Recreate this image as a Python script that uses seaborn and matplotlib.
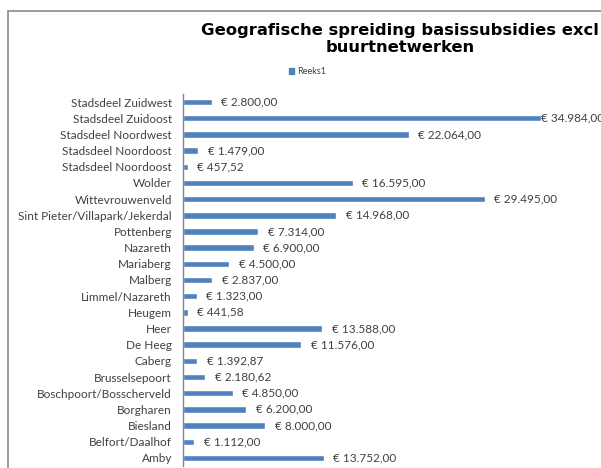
import matplotlib
matplotlib.use("Agg")
import matplotlib.pyplot as plt
import pandas as pd
import seaborn as sns
from matplotlib.lines import Line2D
from matplotlib.patches import Patch

# Data, top to bottom as in the chart
DISTRICTS = [
    "Stadsdeel Zuidwest",
    "Stadsdeel Zuidoost",
    "Stadsdeel Noordwest",
    "Stadsdeel Noordoost",
    "Stadsdeel Noordoost",
    "Wolder",
    "Wittevrouwenveld",
    "Sint Pieter/Villapark/Jekerdal",
    "Pottenberg",
    "Nazareth",
    "Mariaberg",
    "Malberg",
    "Limmel/Nazareth",
    "Heugem",
    "Heer",
    "De Heeg",
    "Caberg",
    "Brusselsepoort",
    "Boschpoort/Bosscherveld",
    "Borgharen",
    "Biesland",
    "Belfort/Daalhof",
    "Amby",
]
SUBSIDIES = [
    2800.00, 34984.00, 22064.00, 1479.00, 457.52, 16595.00, 29495.00,
    14968.00, 7314.00, 6900.00, 4500.00, 2837.00, 1323.00, 441.58,
    13588.00, 11576.00, 1392.87, 2180.62, 4850.00, 6200.00, 8000.00,
    1112.00, 13752.00,
]
SERIES_NAME = "Reeks1"
BAR_COLOR = "#4F81BD"
TEXT_COLOR = "#404040"


def euro(value: float) -> str:
    s = f"{value:,.2f}".replace(",", "_").replace(".", ",").replace("_", ".")
    return f"\u20ac {s}"


sns.set_theme(style="white")
plt.rcParams["font.family"] = ["Lato", "DejaVu Sans"]

# duplicate names ("Stadsdeel Noordoost") -> use unique keys, relabel later
df = pd.DataFrame({
    "key": [f"r{i}" for i in range(len(DISTRICTS))],
    "district": DISTRICTS,
    "value": SUBSIDIES,
})

fig = plt.figure(figsize=(6.01, 4.68), dpi=100)
ax = fig.add_axes([183 / 601, 2 / 468, 1 - 183 / 601, 372 / 468])

sns.barplot(data=df, x="value", y="key", color=BAR_COLOR, width=0.4,
            saturation=1, ax=ax)

ax.set_xlim(0, 40860)
ax.set_yticks(range(len(DISTRICTS)))
ax.set_yticklabels(DISTRICTS)
ax.set_xlabel("")
ax.set_ylabel("")
ax.set_xticks([])
ax.tick_params(axis="y", length=0, pad=8, labelsize=8.5, labelcolor=TEXT_COLOR)
for side in ["top", "right", "bottom"]:
    ax.spines[side].set_visible(False)
ax.spines["left"].set_color("#868686")
ax.spines["left"].set_linewidth(1)

# value labels; the largest one sits right against its bar
for bar, v in zip(ax.containers[0], SUBSIDIES):
    pad = 0 if v > 30000 else 7
    ax.annotate(euro(v), (bar.get_width(), bar.get_y() + bar.get_height() / 2),
                xytext=(pad, 0), textcoords="offset points",
                ha="left", va="center", fontsize=8.5, color=TEXT_COLOR,
                annotation_clip=False)

# title (right part is cut off in the original crop)
fig.text(400 / 601, 1 - 30 / 468, "Geografische spreiding basissubsidies excl",
         ha="center", va="center", fontsize=11.8, fontweight="bold",
         family="DejaVu Sans", color="black")
fig.text(400 / 601, 1 - 48 / 468, "buurtnetwerken",
         ha="center", va="center", fontsize=11.8, fontweight="bold",
         family="DejaVu Sans", color="black")

fig.legend(handles=[Patch(color=BAR_COLOR, label=SERIES_NAME)],
           loc="center left", bbox_to_anchor=(284 / 601, 1 - 72 / 468),
           frameon=False, fontsize=6.5, handlelength=0.6, handleheight=0.6,
           handletextpad=0.3, labelcolor=TEXT_COLOR, borderpad=0)

# chart border (only left and top edges are inside the crop)
fig.add_artist(Line2D([8 / 601, 8 / 601], [0, 1 - 11 / 468],
                      transform=fig.transFigure, color="#8c8c8c", lw=1.2))
fig.add_artist(Line2D([8 / 601, 1], [1 - 11 / 468, 1 - 11 / 468],
                      transform=fig.transFigure, color="#8c8c8c", lw=1.2))

fig.savefig("out.png", dpi=100)
